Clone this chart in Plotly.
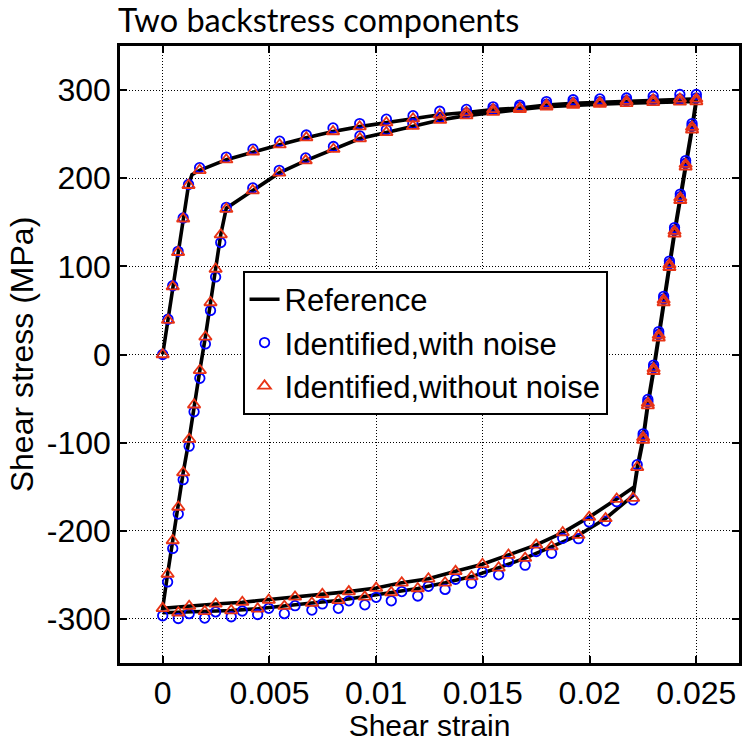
import plotly.graph_objects as go

# ---------------- data ----------------
# Reference curve, four segments: load, unload, reload, unload
ref_load_strain = [0, 0.00025, 0.00047, 0.00072, 0.00096, 0.00121, 0.00137, 0.00173, 0.00298, 0.00423,
                   0.00548, 0.00673, 0.00798, 0.00923, 0.01048, 0.01173, 0.01298, 0.01423, 0.01548,
                   0.01673, 0.01798, 0.01923, 0.02048, 0.02173, 0.02298, 0.02423, 0.025]
ref_load_stress = [0, 39, 77, 116, 154, 192, 204, 209, 221, 230,
                   238, 246, 253, 258.5, 263, 267.5, 272, 274.5, 278,
                   279.5, 283, 285, 286, 287.5, 289, 290, 290]

ref_unload1_strain = [0.025, 0.0248, 0.0245, 0.02425, 0.02398, 0.02374, 0.02347, 0.02324, 0.023, 0.02273,
                      0.02251, 0.02223, 0.0221, 0.02127, 0.01998, 0.01874, 0.0175, 0.0162, 0.01498,
                      0.01372, 0.01245, 0.0112, 0.01, 0.00872, 0.00748, 0.0062, 0.00497, 0.00373,
                      0.00248, 0.00124, 0]
ref_unload1_stress = [290, 258, 216, 178, 140, 102, 62, 22, -16, -55,
                      -94, -128, -150, -164, -184.5, -202, -216, -227.5, -238,
                      -246, -254.5, -259, -265, -269, -272, -275, -278.5, -281,
                      -283, -285.5, -288]

ref_reload_strain = [0, 0.00023, 0.00047, 0.00073, 0.00096, 0.00124, 0.00147, 0.00174, 0.002, 0.00224,
                     0.00248, 0.00272, 0.00298, 0.00422, 0.00546, 0.0067, 0.008, 0.00924, 0.01048,
                     0.01172, 0.013, 0.01423, 0.01548, 0.01673, 0.01798, 0.01923, 0.02048, 0.02173,
                     0.02298, 0.02423, 0.025]
ref_reload_stress = [-288, -249, -211, -173, -134, -96, -57, -18, 20, 59,
                     97, 136, 166, 186, 206, 220, 233, 245, 252,
                     259, 266, 271, 275, 278, 281, 283, 284, 285,
                     286, 286.5, 287]

ref_unload2_strain = [0.025, 0.0248, 0.0245, 0.02425, 0.02398, 0.02374, 0.02347, 0.02324, 0.023, 0.02273,
                      0.02251, 0.02223, 0.02204, 0.02075, 0.01948, 0.01822, 0.01698, 0.01574, 0.01447,
                      0.01323, 0.01195, 0.01071, 0.00947, 0.00823, 0.00699, 0.0057, 0.00445, 0.00321,
                      0.00197, 0.00073, 0]
ref_unload2_stress = [287, 255, 213, 175, 137, 99, 59, 19, -19, -58,
                      -97, -131, -160, -186, -205, -218, -231, -242, -252,
                      -259, -265.5, -270, -275, -279, -282, -285.5, -288.5, -290.5,
                      -291.5, -293, -293]

# Identified points (markers)
mk_strain = [
    # load
    0, 0.00025, 0.00047, 0.00072, 0.00096, 0.00121, 0.00173, 0.00298, 0.00423, 0.00548, 0.00673,
    0.00798, 0.00923, 0.01048, 0.01173, 0.01298, 0.01423, 0.01548, 0.01673, 0.01798, 0.01923,
    0.02048, 0.02173, 0.02298, 0.02423, 0.025,
    # unload 1
    0.0248, 0.0245, 0.02425, 0.02398, 0.02374, 0.02347, 0.02324, 0.023, 0.02273, 0.02251, 0.02223,
    0.02127, 0.01998, 0.01874, 0.0175, 0.0162, 0.01498, 0.01372, 0.01245, 0.0112, 0.01, 0.00872,
    0.00748, 0.0062, 0.00497, 0.00373, 0.00248, 0.00124, 0,
    # reload
    0.00023, 0.00047, 0.00073, 0.00096, 0.00124, 0.00147, 0.00174, 0.002, 0.00224, 0.00248, 0.00272,
    0.00298, 0.00422, 0.00546, 0.0067, 0.008, 0.00924, 0.01048, 0.01172, 0.013, 0.01423, 0.01548,
    0.01673, 0.01798, 0.01923, 0.02048, 0.02173, 0.02298, 0.02423, 0.025,
    # unload 2
    0.0248, 0.0245, 0.02425, 0.02398, 0.02374, 0.02347, 0.02324, 0.023, 0.02273, 0.02251, 0.02204,
    0.02075, 0.01948, 0.01822, 0.01698, 0.01574, 0.01447, 0.01323, 0.01195, 0.01071, 0.00947,
    0.00823, 0.00699, 0.0057, 0.00445, 0.00321, 0.00197, 0.00073,
]
clean_stress = [
    0, 39, 77, 116, 154, 192, 209, 221, 230, 238, 246,
    253, 258.5, 263, 267.5, 272, 274.5, 278, 279.5, 283, 285,
    286, 287.5, 289, 290, 290,
    258, 216, 178, 140, 102, 62, 22, -16, -55, -94, -128,
    -164, -184.5, -202, -216, -227.5, -238, -246, -254.5, -259, -265, -269,
    -272, -275, -278.5, -281, -283, -285.5, -288,
    -249, -211, -173, -134, -96, -57, -18, 20, 59, 97, 136,
    165, 186, 206, 220, 233, 245, 252, 259, 266, 271, 275,
    278, 281, 283, 284, 285, 286, 286.5, 287,
    255, 213, 175, 137, 99, 59, 19, -19, -58, -97, -163,
    -186, -205, -218, -231, -242, -252, -259, -265.5, -270, -275,
    -279, -282, -285.5, -288.5, -290.5, -291.5, -293,
]
noisy_stress = [
    0, 40, 78, 117, 155, 193, 212, 224, 233, 242, 249,
    257, 262, 267, 271, 276, 278, 281, 283, 287, 289,
    290, 291, 293, 295, 295,
    262, 220, 182, 144, 106, 66, 26, -12, -51, -90, -125,
    -167, -190, -208.5, -223.5, -235, -247, -255, -263, -269, -275.5, -279.5,
    -283, -285, -288, -291, -292, -294, -296.5,
    -258, -220, -181, -142, -104, -65, -27, 12, 50, 88, 127,
    167, 189, 209, 223, 236, 248, 255, 262, 269, 274, 278,
    281, 284, 286, 287, 288, 289, 290, 291,
    259, 217, 179, 141, 103, 63, 23, -15, -54, -93, -165,
    -189, -209, -225.5, -239, -250, -259.5, -266.5, -274, -279.5, -284,
    -288, -290, -294, -295, -297.5, -299, -299.5,
]

x_ticks = [0, 0.005, 0.01, 0.015, 0.02, 0.025]
x_tick_labels = ["0", "0.005", "0.01", "0.015", "0.02", "0.025"]
y_ticks = [-300, -200, -100, 0, 100, 200, 300]
y_tick_labels = ["-300", "-200", "-100", "0", "100", "200", "300"]

# ---------------- figure ----------------
ref_strain = ref_load_strain + ref_unload1_strain + ref_reload_strain + ref_unload2_strain
ref_stress = ref_load_stress + ref_unload1_stress + ref_reload_stress + ref_unload2_stress

FONT = "Liberation Sans, Arial, sans-serif"

fig = go.Figure()
fig.add_trace(go.Scatter(x=ref_strain, y=ref_stress, mode="lines", name="Reference",
                         line=dict(color="black", width=3.6)))
fig.add_trace(go.Scatter(x=mk_strain, y=noisy_stress, mode="markers", name="Identified,with noise",
                         marker=dict(symbol="circle-open", size=9.5, color="rgb(0,0,255)",
                                     line=dict(width=1.8, color="rgb(0,0,255)"))))
fig.add_trace(go.Scatter(x=mk_strain, y=clean_stress, mode="markers", name="Identified,without noise",
                         marker=dict(symbol="triangle-up-open", size=11, color="rgb(232,52,22)",
                                     line=dict(width=1.8, color="rgb(232,52,22)"))))

axis_common = dict(
    showline=True, linewidth=2.5, linecolor="black", mirror="ticks",
    ticks="inside", ticklen=7, tickwidth=2, tickcolor="black",
    showgrid=True, gridcolor="black", gridwidth=1, griddash="1px,2px",
    zeroline=False, tickfont=dict(family=FONT, size=32, color="black"),
)

fig.update_layout(
    width=746, height=742,
    margin=dict(l=120, r=4, t=46, b=73),
    paper_bgcolor="white", plot_bgcolor="white",
    title=dict(text="Two backstress components", x=118 / 746, xref="container", xanchor="left",
               y=1 - 21 / 742, yref="container", yanchor="middle",
               font=dict(family="Lato, Open Sans, sans-serif", size=32.5, color="black")),
    xaxis=dict(range=[-0.002, 0.027], tickvals=x_ticks, ticktext=x_tick_labels,
               title=dict(text="Shear strain", font=dict(family=FONT, size=30, color="black"), standoff=6),
               **axis_common),
    yaxis=dict(range=[-350, 350], tickvals=y_ticks, ticktext=y_tick_labels,
               title=dict(text="Shear stress (MPa)", font=dict(family=FONT, size=32, color="black"), standoff=4),
               **axis_common),
    legend=dict(x=0.198, y=0.636, xanchor="left", yanchor="top",
                bgcolor="white", bordercolor="black", borderwidth=2,
                font=dict(family=FONT, size=31, color="black"),
                tracegroupgap=0, itemwidth=30),
    showlegend=True,
)

fig.write_html("out.html")
